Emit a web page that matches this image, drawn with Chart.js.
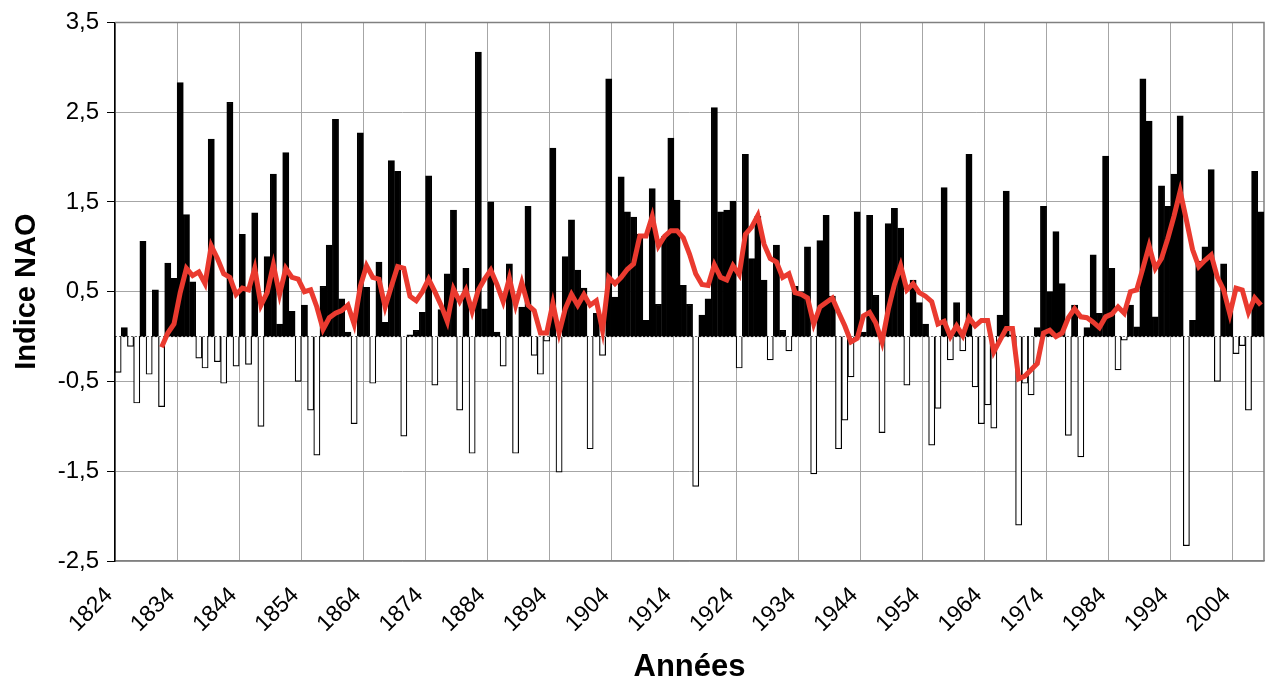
<!DOCTYPE html>
<html lang="fr">
<head>
<meta charset="utf-8">
<script src="https://cdn.jsdelivr.net/npm/chart.js@4.4.0/dist/chart.umd.min.js"></script>
<style>
  html, body { margin: 0; padding: 0; background: #fff; }
</style>
</head>
<body>
<canvas id="nao" width="1266" height="686"></canvas>
<script>
const FONT = "'Liberation Sans', Arial, sans-serif";

// indice NAO annuel, 1824 -> 2008
const firstYear = 1824;
const naoValues = [
  -0.40, 0.10, -0.11, -0.74, 1.06, -0.42, 0.52, -0.78, 0.82, 0.65,
  2.83, 1.36, 0.61, -0.24, -0.35, 2.20, -0.28, -0.52, 2.61, -0.33,
  1.14, -0.31, 1.38, -1.00, 0.89, 1.81, 0.14, 2.05, 0.28, -0.50,
  0.35, -0.82, -1.32, 0.56, 1.02, 2.42, 0.42, 0.05, -0.97, 2.27,
  0.55, -0.52, 0.83, 0.16, 1.96, 1.84, -1.11, 0.02, 0.07, 0.27,
  1.79, -0.54, 0.30, 0.70, 1.41, -0.82, 0.76, -1.30, 3.17, 0.31,
  1.50, 0.05, -0.33, 0.81, -1.30, 0.33, 1.45, -0.21, -0.42, -0.05,
  2.10, -1.51, 0.89, 1.30, 0.74, 0.54, -1.25, 0.26, -0.21, 2.87,
  0.44, 1.78, 1.39, 1.33, 1.14, 0.18, 1.65, 0.36, 1.12, 2.21,
  1.52, 0.57, 0.36, -1.67, 0.24, 0.42, 2.55, 1.39, 1.41, 1.51,
  -0.35, 2.03, 0.87, 1.34, 0.63, -0.26, 1.02, 0.07, -0.16, 0.56,
  0.50, 1.00, -1.53, 1.07, 1.35, 0.45, -1.25, -0.93, -0.45, 1.39,
  0.05, 1.35, 0.46, -1.07, 1.26, 1.43, 1.21, -0.54, 0.63, 0.38,
  0.14, -1.21, -0.80, 1.66, -0.26, 0.38, -0.16, 2.03, -0.56, -0.97,
  -0.76, -1.02, 0.24, 1.62, 0.02, -2.10, -0.52, -0.65, 0.10, 1.45,
  0.50, 1.17, 0.59, -1.10, 0.35, -1.34, 0.10, 0.91, 0.26, 2.01,
  0.76, -0.37, -0.04, 0.35, 0.11, 2.87, 2.40, 0.22, 1.68, 1.45,
  1.81, 2.46, -2.33, 0.18, 0.84, 1.00, 1.86, -0.50, 0.81, 0.30,
  -0.19, -0.10, -0.82, 1.84, 1.39
];

// moyenne mobile (courbe rouge), 1831 -> 2008
const smoothStart = 1831;
const smoothValues = [
  -0.12, 0.04, 0.14, 0.49, 0.76, 0.68, 0.72, 0.59, 1.01,
  0.87, 0.70, 0.66, 0.47, 0.54, 0.52, 0.76, 0.35, 0.49, 0.80,
  0.47, 0.76, 0.66, 0.64, 0.50, 0.52, 0.33, 0.08, 0.21, 0.26,
  0.29, 0.35, 0.14, 0.56, 0.79, 0.66, 0.64, 0.33, 0.56, 0.78,
  0.76, 0.45, 0.40, 0.50, 0.64, 0.50, 0.35, 0.17, 0.53, 0.39,
  0.52, 0.28, 0.52, 0.64, 0.74, 0.58, 0.39, 0.65, 0.35, 0.60,
  0.35, 0.29, 0.04, 0.04, 0.37, 0.04, 0.31, 0.47, 0.35, 0.47,
  0.35, 0.40, 0.07, 0.66, 0.59, 0.66, 0.75, 0.81, 1.12, 1.12,
  1.34, 1.01, 1.12, 1.18, 1.18, 1.10, 0.92, 0.70, 0.58, 0.57,
  0.80, 0.66, 0.63, 0.79, 0.69, 1.14, 1.22, 1.35, 1.03, 0.87,
  0.83, 0.66, 0.70, 0.49, 0.47, 0.43, 0.14, 0.33, 0.38, 0.43,
  0.27, 0.12, -0.06, -0.02, 0.23, 0.27, 0.15, -0.06, 0.30, 0.58,
  0.79, 0.52, 0.59, 0.49, 0.45, 0.39, 0.14, 0.17, 0.00, 0.12,
  0.01, 0.21, 0.12, 0.18, 0.18, -0.17, -0.04, 0.09, 0.09, -0.47,
  -0.44, -0.37, -0.30, 0.04, 0.07, 0.00, 0.04, 0.21, 0.31, 0.22,
  0.21, 0.16, 0.10, 0.22, 0.25, 0.33, 0.26, 0.50, 0.52, 0.76,
  1.01, 0.76, 0.87, 1.09, 1.34, 1.62, 1.30, 0.97, 0.78, 0.85,
  0.91, 0.66, 0.52, 0.25, 0.54, 0.52, 0.27, 0.43, 0.35
];

const yTicks = [3.5, 2.5, 1.5, 0.5, -0.5, -1.5, -2.5];
const labelEvery = 10;

const years = naoValues.map((_, i) => String(firstYear + i));
const pad = smoothStart - firstYear;
const smoothSeries = years.map((_, i) => (i < pad ? null : smoothValues[i - pad]));

// cadre gris (haut, droite) et ligne pointillée du zéro
const framePlugin = {
  id: 'frame',
  beforeDatasetsDraw(chart) {
    const { ctx, chartArea: a, scales } = chart;
    ctx.save();
    ctx.strokeStyle = '#808080';
    ctx.lineWidth = 1.5;
    ctx.beginPath();
    ctx.moveTo(a.left, a.top);
    ctx.lineTo(a.right, a.top);
    ctx.lineTo(a.right, a.bottom);
    ctx.stroke();
    const y0 = scales.y.getPixelForValue(0);
    ctx.strokeStyle = '#000';
    ctx.lineWidth = 1;
    ctx.setLineDash([2, 2]);
    ctx.beginPath();
    ctx.moveTo(a.left, y0);
    ctx.lineTo(a.right, y0);
    ctx.stroke();
    ctx.restore();
  }
};

new Chart(document.getElementById('nao'), {
  data: {
    labels: years,
    datasets: [
      {
        type: 'line',
        data: smoothSeries,
        borderColor: '#ea3a2f',
        borderWidth: 5,
        pointRadius: 0,
        tension: 0,
        order: 0
      },
      {
        type: 'bar',
        data: naoValues,
        backgroundColor: (c) => (c.raw >= 0 ? '#000' : '#fff'),
        borderColor: '#000',
        borderWidth: 1.2,
        barPercentage: 1,
        categoryPercentage: 1,
        order: 1
      }
    ]
  },
  options: {
    responsive: false,
    animation: false,
    devicePixelRatio: 1,
    layout: { padding: { top: 21, right: 2, left: 0, bottom: 0 } },
    plugins: {
      legend: { display: false },
      tooltip: { enabled: false }
    },
    scales: {
      x: {
        type: 'category',
        offset: true,
        grid: {
          offset: true,
          drawTicks: false,
          color: (c) => (c.index % labelEvery === 0 ? '#a6a6a6' : 'rgba(0,0,0,0)')
        },
        border: { color: '#808080', width: 1.5 },
        ticks: {
          autoSkip: false,
          minRotation: 45,
          maxRotation: 45,
          padding: 21,
          labelOffset: -9,
          color: '#000',
          font: { family: FONT, size: 23 },
          callback: (v, i) => (i % labelEvery === 0 ? years[i] : '')
        },
        title: {
          display: true,
          text: 'Années',
          color: '#000',
          font: { family: FONT, size: 31, weight: 'bold' },
          padding: { top: 0, bottom: 0 }
        },
        afterFit: (s) => {
          s.height = 125;
          s.paddingLeft = 0;
          s.paddingRight = 0;
        }
      },
      y: {
        min: -2.5,
        max: 3.5,
        afterBuildTicks: (s) => { s.ticks = yTicks.map((v) => ({ value: v })); },
        grid: { color: '#a6a6a6', tickLength: 8, tickColor: '#000' },
        border: { color: '#000', width: 1.5 },
        ticks: {
          padding: 8,
          color: '#000',
          font: { family: FONT, size: 24 },
          callback: (v) => Number(v).toFixed(1).replace('.', ',')
        },
        title: {
          display: true,
          text: 'Indice NAO',
          color: '#000',
          font: { family: FONT, size: 29, weight: 'bold' },
          padding: { top: 10, bottom: 0 }
        },
        afterFit: (s) => { s.width = 115; }
      }
    }
  },
  plugins: [framePlugin]
});
</script>
</body>
</html>
